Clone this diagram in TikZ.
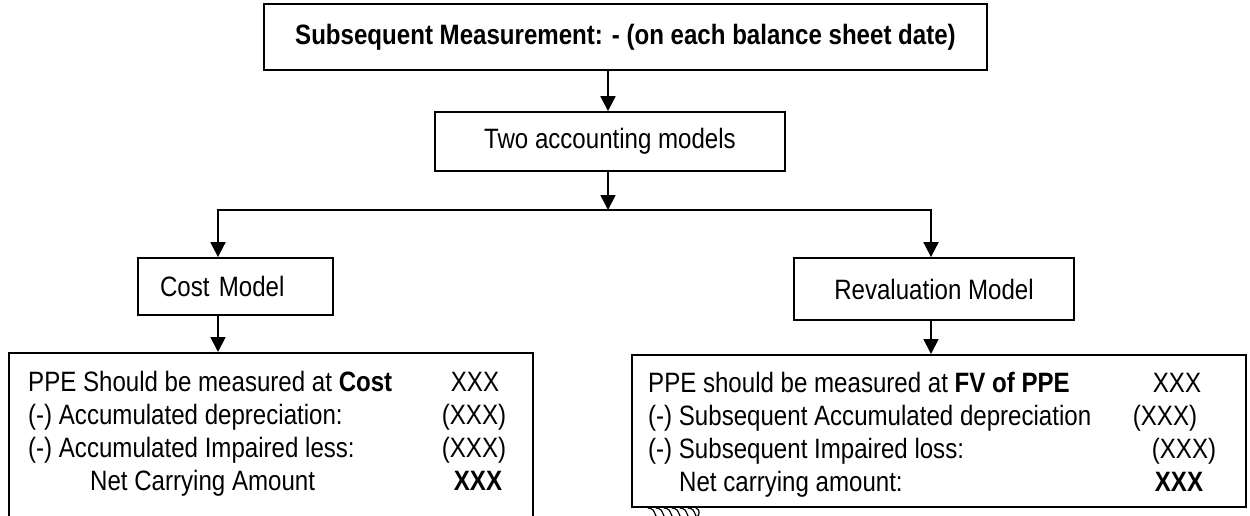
\documentclass[tikz,border=0pt]{standalone}
\usepackage{fontspec}
\setmainfont{Liberation Sans}[FakeStretch=0.86]
\usetikzlibrary{arrows.meta}
\begin{document}
\begin{tikzpicture}[x=1pt,y=-1pt,
  lbl/.style={font=\fontsize{28}{32}\selectfont},
  box/.style={draw, line width=1.8pt, rectangle, inner sep=0pt, lbl},
  arr/.style={line width=1.8pt, line join=miter, -{Triangle[length=15pt,width=15pt]}},
  txt/.style={inner sep=0pt, lbl},
  scribble/.style={line width=1.2pt, line cap=round},
]
\useasboundingbox (0,0) rectangle (1250,515);
\clip (0,0) rectangle (1250,515);

\node[box, minimum width=723pt, minimum height=66pt, font=\bfseries\fontsize{28}{32}\selectfont] (top) at (625.5,37) {Subsequent Measurement: - (on each balance sheet date)};
\node[box, minimum width=350pt, minimum height=59pt] (two) at (610,141.5) {Two accounting models};
\node[box, minimum height=57pt, inner xsep=22pt, text width=151pt, align=left] (cost) at (235.5,286.5) {Cost Model};
\node[box, minimum width=280pt, minimum height=62pt] (reval) at (934,289) {Revaluation Model};

\node[draw, line width=1.8pt, inner sep=0pt, minimum width=524pt, minimum height=190pt, anchor=north west] (costbox) at (8,352) {};
\node[draw, line width=1.8pt, inner sep=0pt, minimum width=614pt, minimum height=152pt, anchor=north west] (revbox) at (631,354) {};

\coordinate (j) at (608,210);
\coordinate (cj) at (218,210);
\coordinate (rj) at (931,210);

\draw[arr] (top.south -| j) -- (two.north -| j);
\draw[arr] (two.south -| j) -- (j);
\draw[arr] (j) -- (cj) -- (cost.north -| cj);
\draw[arr] (j) -- (rj) -- (reval.north -| rj);
\draw[arr] (cost.south -| cj) -- (costbox.north -| cj);
\draw[arr] (reval.south -| rj) -- (revbox.north -| rj);

% cost model rows
\node[txt, anchor=base west] (c1) at (28,391) {PPE Should be measured at \textbf{Cost}};
\node[txt, anchor=base] (c1v) at (475,391) {XXX};
\node[txt, anchor=base west] (c2) at (28,424) {(-) Accumulated depreciation:};
\node[txt, anchor=base] (c2v) at (474,424) {(XXX)};
\node[txt, anchor=base west] (c3) at (28,457) {(-) Accumulated Impaired less:};
\node[txt, anchor=base] (c3v) at (474,457) {(XXX)};
\node[txt, anchor=base west] (c4) at (90,490) {Net Carrying Amount};
\node[txt, anchor=base] (c4v) at (478,490) {\textbf{XXX}};

% revaluation model rows
\node[txt, anchor=base west] (r1) at (648,392) {PPE should be measured at \textbf{FV of PPE}};
\node[txt, anchor=base] (r1v) at (1177,392) {XXX};
\node[txt, anchor=base west] (r2) at (648,425) {(-) Subsequent Accumulated depreciation};
\node[txt, anchor=base] (r2v) at (1165,425) {(XXX)};
\node[txt, anchor=base west] (r3) at (648,458) {(-) Subsequent Impaired loss:};
\node[txt, anchor=base] (r3v) at (1184,458) {(XXX)};
\node[txt, anchor=base west] (r4) at (679,491) {Net carrying amount:};
\node[txt, anchor=base] (r4v) at (1179,491) {\textbf{XXX}};

% scribble below revaluation box
\foreach \i in {0,...,5}
  \draw[scribble] (648+\i*8,508) .. controls (653+\i*8,509) .. (656+\i*8,516);
\draw[scribble] (696,508) .. controls (700,510) and (700,514) .. (697,517);
\end{tikzpicture}
\end{document}
